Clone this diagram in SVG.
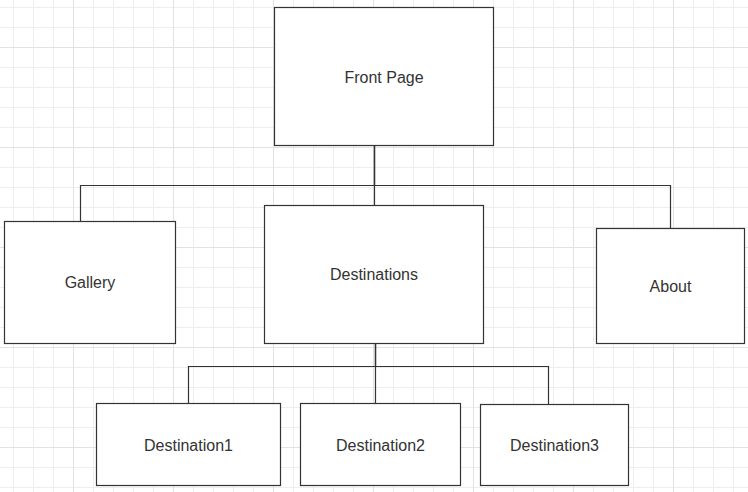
<svg xmlns="http://www.w3.org/2000/svg" width="748" height="492" viewBox="0 0 748 492">
  <style>
    .box { fill: #ffffff; stroke: #333333; stroke-width: 1.2; }
    .lbl { font-family: "Liberation Sans", Arial, sans-serif; font-size: 16px; fill: #333333; text-anchor: middle; }
    .edge { fill: none; stroke: #333333; stroke-width: 1.2; }
  </style>
  <defs>
    <pattern id="minor" x="13" y="7" width="20" height="20" patternUnits="userSpaceOnUse">
      <path d="M0 0.5H20M0.5 0V20" stroke="#eeeeee" stroke-width="1" fill="none"/>
    </pattern>
    <pattern id="major" x="73" y="47" width="100" height="100" patternUnits="userSpaceOnUse">
      <path d="M0 0.5H100M0.5 0V100" stroke="#e2e2e2" stroke-width="1" fill="none"/>
    </pattern>
  </defs>
  <rect width="748" height="492" fill="#ffffff"/>
  <rect width="748" height="492" fill="url(#minor)"/>
  <rect width="748" height="492" fill="url(#major)"/>

  <g id="connectors">
    <path class="edge" d="M374.5 145.5V185.5H80.5V221.5"/>
    <path class="edge" d="M374.5 145.5V205.5"/>
    <path class="edge" d="M374.5 145.5V185.5H670.5V228.5"/>
    <path class="edge" d="M375.5 343.5V366.5H188.5V403.5"/>
    <path class="edge" d="M375.5 343.5V403.5"/>
    <path class="edge" d="M375.5 343.5V366.5H548.5V404.5"/>
  </g>

  <g id="front-page">
    <rect class="box" x="274.5" y="7.5" width="219" height="138"/>
    <text class="lbl" x="384" y="82.5">Front Page</text>
  </g>
  <g id="gallery">
    <rect class="box" x="4.5" y="221.5" width="171" height="122"/>
    <text class="lbl" x="90" y="288.3">Gallery</text>
  </g>
  <g id="destinations">
    <rect class="box" x="264.5" y="205.5" width="219" height="138"/>
    <text class="lbl" x="374" y="279.8">Destinations</text>
  </g>
  <g id="about">
    <rect class="box" x="596.5" y="228.5" width="148" height="115"/>
    <text class="lbl" x="670.5" y="291.7">About</text>
  </g>
  <g id="destination1">
    <rect class="box" x="96.5" y="403.5" width="184" height="82"/>
    <text class="lbl" x="188.5" y="451.2">Destination1</text>
  </g>
  <g id="destination2">
    <rect class="box" x="300.5" y="403.5" width="160" height="82"/>
    <text class="lbl" x="380.5" y="451.2">Destination2</text>
  </g>
  <g id="destination3">
    <rect class="box" x="480.5" y="404.5" width="148" height="81"/>
    <text class="lbl" x="554.5" y="451">Destination3</text>
  </g>
</svg>
